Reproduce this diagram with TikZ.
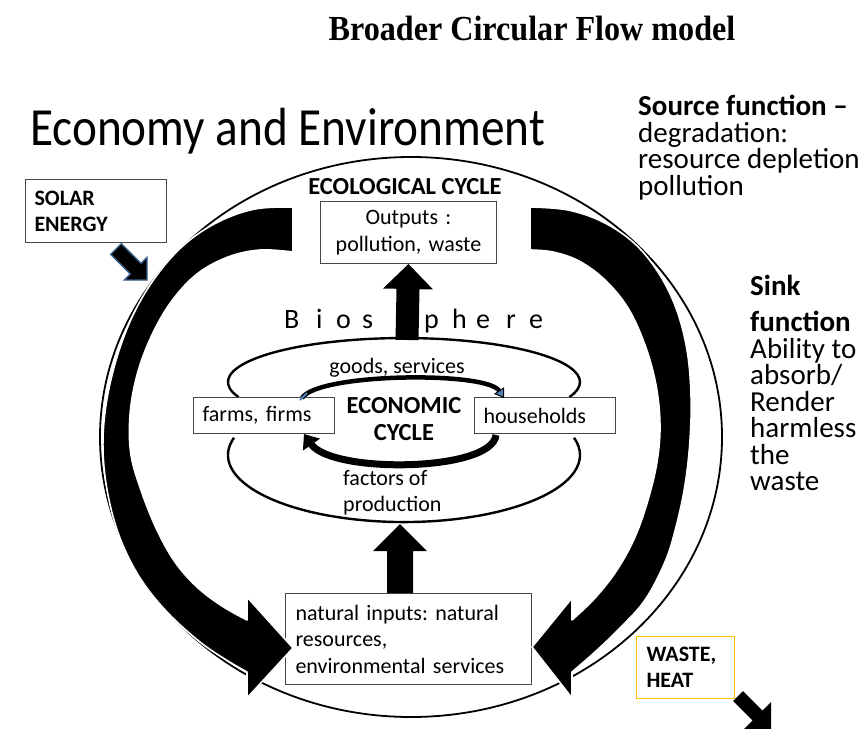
\documentclass[tikz,border=0pt]{standalone}
\usepackage{fontspec}
\usepackage{graphicx}
\setmainfont{Carlito}
\newfontfamily\titleserif{Liberation Serif}
\usetikzlibrary{calc,arrows.meta}
\frenchspacing

\definecolor{boxgray}{RGB}{70,70,70}
\definecolor{outlineblue}{RGB}{56,93,138}
\definecolor{tipblue}{RGB}{79,129,189}
\definecolor{amber}{RGB}{255,192,0}

\newcommand{\bodyfont}{\fontsize{22}{26.5}\selectfont\lineskiplimit=-100pt\relax}
\newcommand{\labelbold}{\fontsize{24.5}{27}\selectfont\bfseries\lineskiplimit=-100pt\relax}
\newcommand{\smallbold}{\fontsize{22}{26}\selectfont\bfseries\lineskiplimit=-100pt\relax}
\newcommand{\sidefont}{\fontsize{29}{26.5}\selectfont\lineskiplimit=-100pt\relax}

% straight block arrow: style, from, to, shaft half width, head half width, head length
\newcommand{\blockarr}[6]{%
  \coordinate (ba-h) at ($(#3)!#6!(#2)$);
  \path[#1] ($(#2)!#4!90:(#3)$) -- ($(ba-h)!#4!90:(#3)$) -- ($(ba-h)!#5!90:(#3)$)
    -- (#3) -- ($(ba-h)!#5!-90:(#3)$) -- ($(ba-h)!#4!-90:(#3)$)
    -- ($(#2)!#4!-90:(#3)$) -- cycle;}

\begin{document}
\begin{tikzpicture}[x=1pt,y=-1pt,
  box/.style={draw=boxgray, line width=1pt, fill=white, inner ysep=0pt,
    align=left, font=\bodyfont, anchor=north west},
  txt/.style={inner sep=0pt, font=\bodyfont},
  band/.style={fill=black, draw=white, line width=1.6pt, line join=round},
  loop/.style={line width=2.4pt},
  solid arrow/.style={fill=black},
  sun arrow/.style={fill=black, draw=outlineblue, line width=1.4pt, line join=miter}]
\useasboundingbox (0,0) rectangle (867,728);

% environment boundary
\draw[line width=1.8pt] (411,437) ellipse [x radius=311, y radius=280];

% economic loops
\draw[loop] (238.6,397.1) arc [start angle=160, end angle=380, x radius=176, y radius=44];
\draw[loop] (234,437.7) arc [start angle=195, end angle=-15, x radius=176, y radius=67];

% boxes
\node[box, text width=123pt, inner xsep=9pt, minimum height=36pt] (ff) at (193,397) {farms, firms};
\node[box, text width=123pt, inner xsep=9pt, minimum height=36pt] (hh) at (474,397) {households};
\node[box, text width=156pt, inner xsep=10pt, minimum height=62pt, align=center] (outputs) at (320,201) {Outputs :\\pollution, waste};
\node[box, text width=226pt, inner xsep=10pt, minimum height=91pt] (inputs) at (285,593) {natural inputs: natural\\resources,\\environmental services};
\node[box, text width=123pt, inner xsep=9pt, minimum height=63pt, font=\smallbold] (solar) at (25,179) {SOLAR\\ENERGY};
\node[box, draw=amber, text width=78pt, inner xsep=10pt, minimum height=62pt, font=\smallbold] (waste) at (636,636) {WASTE,\\HEAT};

% big curved flows of the ecological cycle
\filldraw[band]
  plot[smooth, tension=0.6] coordinates {(293,207) (255,209) (218,222) (185,244) (157,275)
    (134,313) (117,357) (106,405) (103,450) (108,495) (120,538) (140,578) (167,612)
    (200,642) (228,661) (247,672)}
  -- (247,698) -- (293,648) -- (247,597)
  -- plot[smooth, tension=0.6] coordinates {(247,620) (222,606) (197,587) (175,562)
    (157,530) (142,493) (131,455) (130,415) (137,375) (151,337) (171,302) (197,274)
    (228,257) (260,250) (293,252)}
  -- cycle;
\filldraw[band]
  plot[smooth, tension=0.6] coordinates {(530,207) (568,210) (603,222) (634,243) (658,272)
    (676,308) (687,350) (691,395) (690,440) (685,485) (676,527) (665,562) (645,600)
    (620,628) (595,652) (572,672)}
  -- (572,698) -- (532,647) -- (572,598)
  -- plot[smooth, tension=0.6] coordinates {(572,620) (595,598) (617,570) (635,537)
    (648,500) (657,462) (660,425) (656,385) (645,345) (628,308) (605,280) (579,261)
    (553,252) (530,250)}
  -- cycle;

% economic cycle arrows
\coordinate (gs1) at ($(ff.north west)+(109,1)$);
\coordinate (gs2) at ($(hh.north west)+(30,1)$);
\draw[line width=4.5pt, -{Triangle[length=9pt, width=12pt, fill=tipblue, line width=1pt]}]
  (gs1) .. controls (318,373) and (486,371) .. (gs2);
\draw[tipblue, line width=2pt] ($(gs1)+(-2,2)$) -- ($(gs1)+(5,-5)$);
\coordinate (fp1) at ($(hh.south west)+(22,1)$);
\coordinate (fp2) at ($(ff.south west)+(111,0)$);
\draw[line width=7pt, -{Triangle[length=13pt, width=20pt]}]
  (fp1) .. controls (492,472) and (332,474) .. (fp2);

% straight block arrows
\coordinate (ecotop) at (407,340);
\blockarr{solid arrow}{ecotop}{outputs.south}{11.5pt}{25pt}{25pt}
\coordinate (ecobottom) at (400,524);
\coordinate (inputstop) at ($(inputs.north west)+(115,0)$);
\blockarr{solid arrow}{inputstop}{ecobottom}{13pt}{27pt}{27pt}
\coordinate (sunfrom) at ($(solar.south west)+(91,6)$);
\coordinate (sunto) at (147,280);
\blockarr{sun arrow}{sunfrom}{sunto}{7.5pt}{16pt}{16pt}
\coordinate (heatfrom) at ($(waste.south east)+(3,-3)$);
\coordinate (heatto) at (771,729);
\blockarr{solid arrow}{heatfrom}{heatto}{7pt}{19pt}{19pt}

% labels (multi-line nodes are placed by the baseline of their last line)
\node[anchor=base, inner sep=0pt] (title) at (532,40)
  {\scalebox{0.913}[1]{\titleserif\bfseries\fontsize{35.2}{40}\selectfont Broader Circular Flow model}};
\node[anchor=base west, inner sep=0pt] (heading) at (30,145.6)
  {\scalebox{0.88}[1]{\fontsize{53.7}{60}\selectfont Economy and Environment}};
\node[anchor=base, inner sep=0pt, font=\labelbold] (ecocycle) at (405,194) {ECOLOGICAL CYCLE};
\node[anchor=base west, inner sep=0pt, font=\fontsize{28}{30}\selectfont] (bio) at (284,328)
  {\makebox[32pt][l]{B}\makebox[20pt][l]{i}\makebox[26pt][l]{o}\makebox[62pt][l]{s}\makebox[28pt][l]{p}\makebox[24pt][l]{h}\makebox[30pt][l]{e}\makebox[23pt][l]{r}e};
\node[anchor=base, txt] (goods) at (397,373) {goods, services};
\node[anchor=base, inner sep=0pt, align=center, font=\labelbold] (econ) at (404,440) {ECONOMIC\\CYCLE};
\node[anchor=base west, txt, align=left] (factors) at (343,511.5) {factors of\\production};
\node[anchor=base west, inner sep=0pt, align=left, font=\sidefont] (source) at (638,195)
  {{\bfseries Source function –}\\degradation:\\resource depletion\\pollution};
\node[anchor=base west, inner sep=0pt, align=left, font=\sidefont] (sink) at (750,490.5)
  {{\bfseries Sink}\\[10pt]{\bfseries function}\\Ability to\\absorb/\\Render\\harmless\\the\\waste};
\end{tikzpicture}
\end{document}
